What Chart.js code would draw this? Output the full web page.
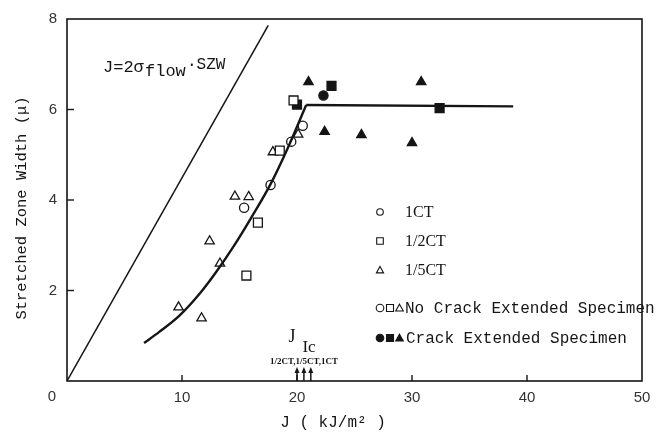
<!DOCTYPE html>
<html><head><meta charset="utf-8">
<script src="https://cdn.jsdelivr.net/npm/chart.js@4/dist/chart.umd.min.js"></script>
<style>html,body{margin:0;padding:0;background:#fff}#wrap{width:666px;height:434px}</style>
</head><body><div id="wrap"><canvas id="c" width="666" height="434"></canvas></div>
<script>
// ---- data ----
const xTicks = [0, 10, 20, 30, 40, 50];
const yTicks = [0, 2, 4, 6, 8];

// [J (kJ/m2), SZW (micron)]
const ct1Open      = [[15.4, 3.83], [17.7, 4.33], [19.5, 5.29], [20.5, 5.64]];
const ct1Filled    = [[22.3, 6.31]];
const ct12Open     = [[15.6, 2.33], [16.6, 3.50], [18.5, 5.09], [19.7, 6.20]];
const ct12Filled   = [[20.0, 6.11], [23.0, 6.52], [32.4, 6.03]];
const ct15Open     = [[9.7, 1.63], [11.7, 1.39], [12.4, 3.09], [13.3, 2.60], [14.6, 4.08], [15.8, 4.07], [17.9, 5.06], [20.1, 5.45]];
const ct15Filled   = [[21.0, 6.61], [22.4, 5.51], [25.6, 5.44], [30.0, 5.26], [30.8, 6.61]];

const fitCurveJ    = [6.7, 8.0, 9.8, 11.6, 13.0, 14.5, 16.0, 17.7, 19.2, 20.8];
const fitCurveSZW  = [0.84, 1.08, 1.45, 1.95, 2.42, 2.98, 3.60, 4.35, 5.15, 6.10];
const plateauJ     = [20.8, 38.8];
const plateauSZW   = [6.10, 6.07];
const bluntJ       = [0, 17.5];
const bluntSZW     = [0, 7.86];

const jicLabels = ['1/2CT', '1/5CT', '1CT'];
const jicValues = [20.0, 20.6, 21.2];

const legendRows = ['1CT', '1/2CT', '1/5CT'];
// ---------------------------------------

const pts = arr => arr.map(([x, y]) => ({x, y}));
const zip = (xs, ys) => xs.map((x, i) => ({x, y: ys[i]}));
const INK = '#151515';

function marker(style, filled, r, data) {
  return {
    type: 'scatter', data: pts(data), pointStyle: style, pointRadius: r, pointHoverRadius: r,
    pointBorderColor: INK, pointBackgroundColor: filled ? INK : '#fff', pointBorderWidth: 1.3
  };
}
function lineDs(data, w, tension) {
  return {
    type: 'line', data, borderColor: INK, borderWidth: w, pointRadius: 0, fill: false,
    tension: tension, cubicInterpolationMode: tension ? 'monotone' : 'default'
  };
}

function drawMark(ctx, type, x, y, s, filled) {
  ctx.beginPath();
  if (type === 'circle') ctx.arc(x, y, s, 0, Math.PI * 2);
  else if (type === 'rect') ctx.rect(x - s, y - s, 2 * s, 2 * s);
  else { ctx.moveTo(x, y - s); ctx.lineTo(x + s, y + s * 0.8); ctx.lineTo(x - s, y + s * 0.8); ctx.closePath(); }
  if (filled) { ctx.fillStyle = INK; ctx.fill(); }
  ctx.lineWidth = 1.1; ctx.strokeStyle = INK; ctx.stroke();
}

const deco = {
  id: 'deco',
  afterDatasetsDraw(chart) {
    const {ctx, chartArea: a, scales: {x, y}} = chart;
    ctx.save();
    ctx.strokeStyle = INK; ctx.lineWidth = 1.6;
    ctx.strokeRect(a.left, a.top, a.right - a.left, a.bottom - a.top);
    ctx.lineWidth = 1.4;
    xTicks.forEach(v => {
      if (v === xTicks[0] || v === xTicks[xTicks.length - 1]) return;
      const px = x.getPixelForValue(v);
      ctx.beginPath(); ctx.moveTo(px, a.bottom); ctx.lineTo(px, a.bottom - 6); ctx.stroke();
    });
    yTicks.forEach(v => {
      if (v === yTicks[0] || v === yTicks[yTicks.length - 1]) return;
      const py = y.getPixelForValue(v);
      ctx.beginPath(); ctx.moveTo(a.left, py); ctx.lineTo(a.left + 7, py); ctx.stroke();
    });
    ctx.fillStyle = '#333';
    ctx.font = '15px "Liberation Sans"';
    ctx.textAlign = 'center'; ctx.textBaseline = 'middle';
    ctx.fillText('0', a.left - 15, a.bottom + 16);

    // axis titles
    ctx.fillStyle = INK;
    ctx.font = '16px "Liberation Mono"';
    ctx.fillText('J ( kJ/m\u00B2 )', 333, 423);
    ctx.save();
    ctx.translate(22, 208); ctx.rotate(-Math.PI / 2);
    ctx.font = '15.5px "Liberation Mono"';
    ctx.fillText('Stretched Zone Width (\u03BC)', 0, 0);
    ctx.restore();

    // blunting line label
    ctx.textAlign = 'left'; ctx.textBaseline = 'alphabetic';
    ctx.font = '17px "Liberation Mono"';
    ctx.fillText('J=2\u03C3', 103, 72);
    ctx.fillText('flow', 145, 76);
    ctx.font = '16px "Liberation Mono"';
    ctx.fillText('\u00B7SZW', 187, 69);

    // legend
    const lx = 380;
    const rowsY = [212, 241, 270];
    const types = ['circle', 'rect', 'triangle'];
    ctx.font = '16px "Liberation Serif"';
    ctx.textBaseline = 'middle';
    legendRows.forEach((t, i) => {
      drawMark(ctx, types[i], lx, rowsY[i], i === 2 ? 3.6 : 3.3, false);
      ctx.fillStyle = INK;
      ctx.fillText(t, 405, rowsY[i] + 1);
    });
    const r4 = 308, r5 = 338;
    drawMark(ctx, 'circle', 380, r4, 3.8, false);
    drawMark(ctx, 'rect', 390, r4, 3.5, false);
    drawMark(ctx, 'triangle', 399.5, r4, 3.8, false);
    drawMark(ctx, 'circle', 380, r5, 3.8, true);
    drawMark(ctx, 'rect', 390, r5, 3.5, true);
    drawMark(ctx, 'triangle', 399.5, r5, 3.8, true);
    ctx.fillStyle = INK;
    ctx.font = '16px "Liberation Mono"';
    ctx.fillText('No Crack Extended Specimen', 405, r4 + 1);
    ctx.fillText('Crack Extended Specimen', 406, r5 + 1);

    // J_Ic annotation
    ctx.font = '18px "Liberation Serif"';
    ctx.textAlign = 'center';
    ctx.fillText('J', 292, 337);
    ctx.font = '17px "Liberation Serif"';
    ctx.fillText('Ic', 309, 348);
    ctx.font = 'bold 9px "Liberation Serif"';
    ctx.fillText(jicLabels.join(','), 304, 362);
    ctx.lineWidth = 1.5;
    jicValues.forEach(v => {
      const px = x.getPixelForValue(v);
      ctx.beginPath(); ctx.moveTo(px, a.bottom); ctx.lineTo(px, a.bottom - 9); ctx.stroke();
      ctx.beginPath(); ctx.moveTo(px, a.bottom - 14); ctx.lineTo(px + 2.5, a.bottom - 8); ctx.lineTo(px - 2.5, a.bottom - 8); ctx.closePath();
      ctx.fillStyle = INK; ctx.fill();
    });
    ctx.restore();
  }
};

const tickFont = {family: '"Liberation Sans"', size: 15};
new Chart(document.getElementById('c'), {
  type: 'scatter',
  data: {
    datasets: [
      lineDs(zip(bluntJ, bluntSZW), 1.5, 0),
      lineDs(zip(fitCurveJ, fitCurveSZW), 2.4, 0.4),
      lineDs(zip(plateauJ, plateauSZW), 2.4, 0),
      marker('circle', false, 4.6, ct1Open),
      marker('rect', false, 6.3, ct12Open),
      marker('triangle', false, 5.4, ct15Open),
      marker('rect', true, 6.3, ct12Filled),
      marker('circle', true, 4.6, ct1Filled),
      marker('triangle', true, 5.4, ct15Filled)
    ]
  },
  options: {
    responsive: false, animation: false,
    layout: {padding: {top: 12, right: 24, left: 0, bottom: 0}},
    plugins: {legend: {display: false}, tooltip: {enabled: false}},
    scales: {
      x: {
        type: 'linear', min: 0, max: 50,
        afterBuildTicks: s => { s.ticks = xTicks.map(v => ({value: v})); },
        afterFit: s => { s.height = 53; },
        grid: {display: false, drawTicks: false}, border: {display: false},
        ticks: {padding: 8, color: '#333', font: tickFont, callback: v => v === 0 ? '' : String(v)}
      },
      y: {
        type: 'linear', min: 0, max: 8,
        afterBuildTicks: s => { s.ticks = yTicks.map(v => ({value: v})); },
        afterFit: s => { s.width = 67; },
        grid: {display: false, drawTicks: false}, border: {display: false},
        ticks: {padding: 10, color: '#333', font: tickFont, callback: v => v === 0 ? '' : String(v)}
      }
    }
  },
  plugins: [deco]
});
</script>
</body></html>
